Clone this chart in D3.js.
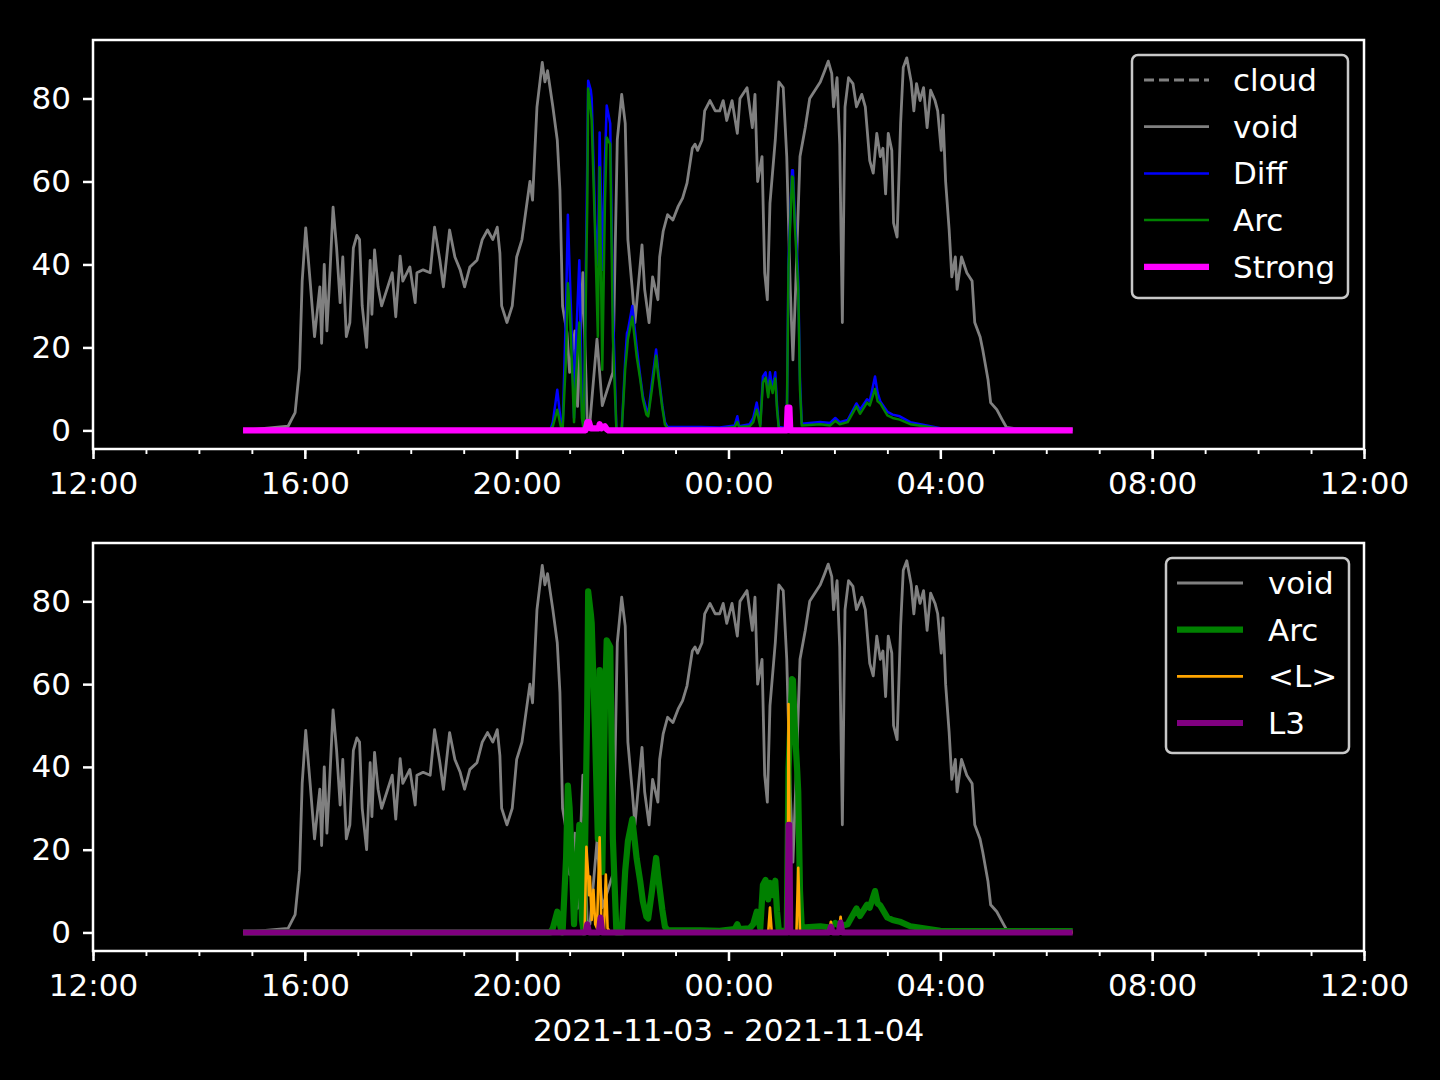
<!DOCTYPE html>
<html><head><meta charset="utf-8">
<script src="https://cdn.jsdelivr.net/npm/d3@7"></script>
<style>html,body{margin:0;padding:0;background:#000;}svg{display:block;}</style>
</head><body>
<svg id="chart" width="1440" height="1080"></svg>
<script>
// ---------------- data (time "HH:MM", hours < 12 belong to 2021-11-04) ----------------
const voidTimes = ["14:50","15:41","15:49","15:54","15:57","16:01","16:06","16:11","16:17","16:19","16:22","16:25","16:28","16:32","16:36","16:40","16:43","16:47","16:51","16:55","16:59","17:02","17:05","17:10","17:14","17:16","17:19","17:23","17:27","17:33","17:39","17:43","17:48","17:51","17:59","18:05","18:07","18:14","18:22","18:27","18:33","18:37","18:44","18:50","18:56","19:01","19:07","19:15","19:21","19:27","19:33","19:38","19:41","19:43","19:49","19:55","20:00","20:06","20:09","20:15","20:18","20:23","20:29","20:32","20:35","20:41","20:46","20:49","20:52","20:57","21:00","21:06","21:09","21:15","21:20","21:23","21:31","21:37","21:43","21:49","21:54","21:59","22:03","22:06","22:11","22:14","22:22","22:25","22:30","22:34","22:40","22:42","22:46","22:51","22:57","23:03","23:08","23:13","23:19","23:22","23:25","23:30","23:33","23:39","23:45","23:50","23:54","23:58","00:04","00:10","00:13","00:21","00:27","00:30","00:33","00:38","00:41","00:44","00:47","00:53","00:57","01:02","01:06","01:10","01:13","01:16","01:21","01:27","01:32","01:38","01:44","01:49","01:53","01:57","01:59","02:03","02:06","02:09","02:12","02:16","02:21","02:25","02:31","02:35","02:40","02:44","02:48","02:52","02:55","02:58","03:01","03:05","03:07","03:11","03:15","03:18","03:22","03:27","03:30","03:33","03:37","03:41","03:45","03:49","03:54","03:57","04:01","04:03","04:06","04:10","04:13","04:17","04:19","04:24","04:30","04:36","04:39","04:45","04:48","04:54","04:57","05:04","05:10","05:15","05:25","06:30"];
const voidValues = [0,1,4.3,15,36,48.8,36,22.6,34.6,21,40,24,36,53.8,44,30.8,41.8,22.6,26,44,47,46,30,20,41,28,43.5,34.6,30,34,38,27.4,42,36,39.4,30.8,38,38.7,38,49,41,34.6,48.3,41.8,38.7,34.6,39.4,41,46,48.3,46,49,42.7,30,26,30,41.8,46,50.7,60,55.5,78,88.7,84,86.7,78,70,58,30,23.5,14,24,5.8,38,2,2,22,6,10,14,70,81,74,46,34,26,44.7,34,26,37,31.5,41.8,48,52,50.7,54,56,59.6,68,69,67.5,70,77,79.5,77,77,79.5,74.7,79.5,71.6,80,82.6,73,81,60,66,38,31.5,54.8,70,84,82.6,66,34,17,34,66,73,80,82,84,86.7,89,86,78,85,69,26,78,85,83.6,78,81,78,65,62,71.6,66,68,57,71.6,67.5,50,46.6,74,87.5,89.8,84,77,83.6,79.5,82.6,73,82,79.5,77,67.5,76,60,48.3,37,41.8,34,41.8,38,36,26,22.6,19.5,12.3,6.7,5,2.6,0.7,0.4,0.3];

const arcTimes = ["14:50","20:38","20:41","20:46","20:50","20:52","20:56","20:58","21:00","21:03","21:05","21:07","21:11","21:14","21:16","21:20","21:21","21:24","21:25","21:29","21:32","21:34","21:37","21:40","21:42","21:46","21:49","21:53","21:59","22:03","22:05","22:06","22:11","22:16","22:20","22:23","22:27","22:29","22:33","22:38","22:40","22:45","22:48","22:51","23:28","23:50","00:07","00:10","00:12","00:24","00:28","00:32","00:36","00:39","00:42","00:45","00:47","00:50","00:53","00:55","00:57","01:06","01:08","01:12","01:13","01:15","01:18","01:19","01:21","01:23","01:44","01:55","02:01","02:06","02:15","02:25","02:29","02:37","02:40","02:46","02:49","02:52","03:00","03:06","03:14","03:26","04:00","06:30"];
const arcValues = [0,0,1,5,1,0,18,35.5,30,14,2,12,26,3,0,55,82.4,77,74.7,46.6,22.6,63.4,14.6,55,70.6,69,22.6,0,0,15,19.5,22,27.4,17.8,12.3,7.5,3.8,3.4,9.6,18,14,5.5,1.4,0.5,0.5,0.4,0.8,2,0.8,1,2,5,1,11.5,12.7,8,12,9,12.5,5,0.5,0.3,39.4,61.2,61,50,38.4,34,10,1.2,1.5,1.2,2.3,1.5,2,5.8,4,6.7,6,10,7,6.5,3.6,3,2.6,1.5,0.4,0.3];

const diffTimes = arcTimes;
const diffValues = [0,0,2,9.8,2,0,30,52,38.7,20,3,20,41,5,0,65,84.3,82,80,50,40,71.8,38.7,65,78.3,74,30,0,0,17,23.5,24,30,20,13,8.2,5,4,11,19.5,15,6,2,0.8,0.8,0.7,1.2,3.4,1,1.5,3,6.7,1.5,13,14,9,14,10,14,6,0.8,0.5,41,62.7,62.7,52,41,36,12,1.6,2,1.8,3,2,2.5,6.5,5,7.5,7,13,9,7,4.5,3.8,3.4,2,0.5,0.3];

const strongTimes = ["14:50","21:18","21:20","21:22","21:24","21:33","21:34","21:36","21:40","21:42","21:44","01:06","01:07","01:09","01:10","06:30"];
const strongValues = [0,0,2,2,0.5,0.5,1.5,0.5,1,0.3,0,0,5.5,5.5,0,0];

const cloudTimes = [];
const cloudValues = [];

const lTimes = ["14:50","21:17","21:19","21:21","21:22","21:23","21:25","21:27","21:29","21:31","21:34","21:36","21:39","21:41","21:43","21:46","00:45","00:47","00:49","01:07","01:08","01:10","01:17","01:19","01:21","01:54","01:56","01:58","02:05","02:07","02:09","06:30"];
const lValues = [0,0,20.7,14,9,13.5,3,10.3,2,1,23,1,0.5,14,1,0,0,6,0,0,55.2,0,0,15.6,0,0,2.6,0,0,3.8,0,0];

const l3Times = ["14:50","21:18","21:20","21:22","21:33","21:35","21:37","01:07","01:08","01:09","01:10","01:54","01:56","01:58","02:05","02:07","02:09","06:30"];
const l3Values = [0,0,2,0,0,3.6,0,0,26,26,0,0,1.4,0,0,2.4,0,0];

const yTicks = [0, 20, 40, 60, 80];
const xLabel = "2021-11-03 - 2021-11-04";
const topLegend = ["cloud", "void", "Diff", "Arc", "Strong"];
const bottomLegend = ["void", "Arc", "<L>", "L3"];

// ---------------- helpers ----------------
function toDate(t) {
  const [h, m] = t.split(":").map(Number);
  const day = h < 12 ? 4 : 3;
  return new Date(Date.UTC(2021, 10, day, h, m));
}
function series(times, values) {
  return times.map((t, i) => ({ t: toDate(t), v: values[i] }));
}

const FONT = "DejaVu Sans, sans-serif";
const FS = "31px";
const svg = d3.select("#chart");
svg.append("rect").attr("width", 1440).attr("height", 1080).attr("fill", "#000");

const left = 93, right = 1364;
const x = d3.scaleUtc()
  .domain([new Date(Date.UTC(2021, 10, 3, 12)), new Date(Date.UTC(2021, 10, 4, 12))])
  .range([left, right]);

const styles = {
  cloud:  { color: "#808080", width: 2.8, dash: "10,5" },
  void:   { color: "#808080", width: 2.8 },
  Diff:   { color: "#0000ff", width: 2.5 },
  Arc:    { color: "#008000", width: 2.5 },
  Strong: { color: "#ff00ff", width: 6.2 },
  ArcB:   { color: "#008000", width: 6.2 },
  L:      { color: "#ffa500", width: 2.6 },
  L3:     { color: "#800080", width: 6.0 }
};

function panel(top, bottom, lines, legendItems, legendBox, showXLabel) {
  const y = d3.scaleLinear().domain([-4.48, 94.1]).range([bottom, top]);
  const g = svg.append("g");
  const clipId = "clip" + top;
  svg.append("clipPath").attr("id", clipId).append("rect")
    .attr("x", left).attr("y", top).attr("width", right - left).attr("height", bottom - top);

  const plot = g.append("g").attr("clip-path", `url(#${clipId})`);
  const lineGen = d3.line().x(d => x(d.t)).y(d => y(d.v));
  lines.forEach(l => {
    if (!l.data.length) return;
    plot.append("path").datum(l.data)
      .attr("d", lineGen)
      .attr("fill", "none")
      .attr("stroke", l.style.color)
      .attr("stroke-width", l.style.width)
      .attr("stroke-linejoin", "round")
      .attr("stroke-linecap", "butt")
      .attr("stroke-dasharray", l.style.dash || null);
  });

  // spines
  g.append("rect").attr("x", left).attr("y", top).attr("width", right - left).attr("height", bottom - top)
    .attr("fill", "none").attr("stroke", "#fff").attr("stroke-width", 2.5);

  // x axis
  const xAxis = d3.axisBottom(x).ticks(d3.utcHour.every(4)).tickFormat(d3.utcFormat("%H:%M"))
    .tickSize(10).tickPadding(13);
  const xg = g.append("g").attr("transform", `translate(0,${bottom})`).call(xAxis);
  const xMinor = d3.axisBottom(x).ticks(d3.utcHour.every(1)).tickFormat("").tickSize(5);
  const xmg = g.append("g").attr("transform", `translate(0,${bottom})`).call(xMinor);
  xmg.select(".domain").remove();
  xmg.selectAll("line").attr("stroke", "#fff").attr("stroke-width", 1.9);
  xg.select(".domain").remove();
  xg.selectAll("line").attr("stroke", "#fff").attr("stroke-width", 2.5);
  xg.selectAll("text").attr("fill", "#fff").style("font-family", FONT).style("font-size", FS);

  // y axis
  const yAxis = d3.axisLeft(y).tickValues(yTicks).tickFormat(d3.format("d")).tickSize(10).tickPadding(12);
  const yg = g.append("g").attr("transform", `translate(${left},0)`).call(yAxis);
  yg.select(".domain").remove();
  yg.selectAll("line").attr("stroke", "#fff").attr("stroke-width", 2.5);
  yg.selectAll("text").attr("fill", "#fff").style("font-family", FONT).style("font-size", FS);

  // legend
  const lg = g.append("g");
  lg.append("rect").attr("x", legendBox.x0).attr("y", legendBox.y0)
    .attr("width", legendBox.x1 - legendBox.x0).attr("height", legendBox.y1 - legendBox.y0)
    .attr("rx", 6).attr("fill", "#000").attr("stroke", "#c8c8c8").attr("stroke-width", 2.5);
  legendItems.forEach((it, i) => {
    const cy = legendBox.firstY + i * legendBox.step;
    lg.append("line").attr("x1", legendBox.lx0).attr("x2", legendBox.lx1).attr("y1", cy).attr("y2", cy)
      .attr("stroke", it.style.color).attr("stroke-width", it.style.width)
      .attr("stroke-dasharray", it.style.dash || null);
    lg.append("text").attr("x", legendBox.tx).attr("y", cy + 11).text(it.label)
      .attr("fill", "#fff").style("font-family", FONT).style("font-size", FS);
  });

  if (showXLabel) {
    g.append("text").attr("x", (left + right) / 2).attr("y", 1041).attr("text-anchor", "middle")
      .text(xLabel).attr("fill", "#fff").style("font-family", FONT).style("font-size", FS);
  }
}

const voidData = series(voidTimes, voidValues);
const arcData = series(arcTimes, arcValues);

panel(40, 449, [
  { data: series(cloudTimes, cloudValues), style: styles.cloud },
  { data: voidData, style: styles.void },
  { data: series(diffTimes, diffValues), style: styles.Diff },
  { data: arcData, style: styles.Arc },
  { data: series(strongTimes, strongValues), style: styles.Strong }
], [
  { label: topLegend[0], style: styles.cloud },
  { label: topLegend[1], style: styles.void },
  { label: topLegend[2], style: styles.Diff },
  { label: topLegend[3], style: styles.Arc },
  { label: topLegend[4], style: styles.Strong }
], { x0: 1132, x1: 1348, y0: 55, y1: 298, firstY: 80, step: 46.7, lx0: 1144, lx1: 1209, tx: 1233 }, false);

panel(543, 951, [
  { data: voidData, style: styles.void },
  { data: arcData, style: styles.ArcB },
  { data: series(lTimes, lValues), style: styles.L },
  { data: series(l3Times, l3Values), style: styles.L3 }
], [
  { label: bottomLegend[0], style: styles.void },
  { label: bottomLegend[1], style: styles.ArcB },
  { label: bottomLegend[2], style: styles.L },
  { label: bottomLegend[3], style: styles.L3 }
], { x0: 1166, x1: 1349, y0: 558, y1: 753, firstY: 583, step: 46.7, lx0: 1177, lx1: 1243, tx: 1268 }, true);
</script>
</body></html>
